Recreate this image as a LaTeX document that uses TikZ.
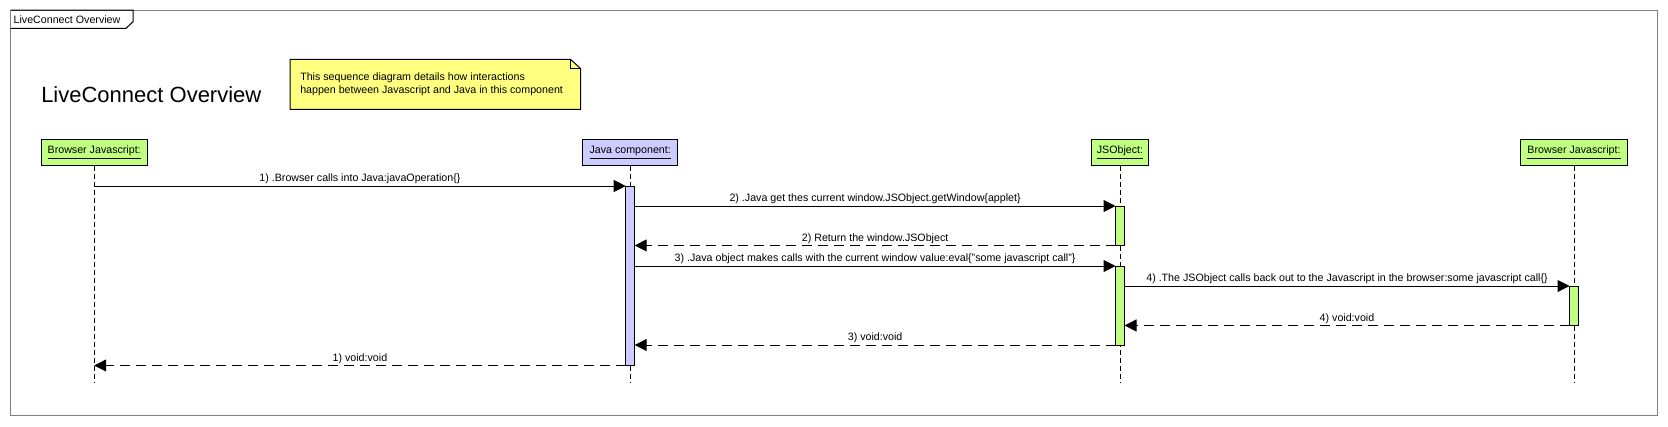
\documentclass[tikz,border=0pt]{standalone}
\usepackage{fontspec}
\setmainfont{Liberation Sans}
\usetikzlibrary{arrows.meta}
\definecolor{lifegreen}{HTML}{C0FF80}
\definecolor{lifeblue}{HTML}{CCCCFF}
\definecolor{noteyellow}{HTML}{FFFF80}
\definecolor{framegray}{HTML}{808080}

\begin{document}
\begin{tikzpicture}[
    x=0.75pt, y=-0.75pt,
    font=\fontsize{8}{10}\selectfont,
    actor/.style={draw, line width=0.75pt, minimum height=19.8pt, inner sep=0pt, outer sep=0pt},
    activation/.style={draw, line width=0.75pt, minimum width=6.75pt, inner sep=0pt, outer sep=0pt, anchor=north},
    lifeline/.style={line width=0.75pt, dash pattern=on 3.75pt off 2.25pt},
    call/.style={line width=0.75pt, -{Triangle[length=9pt, width=9pt]}},
    reply/.style={call, dash pattern=on 7pt off 5pt},
    msg/.style={midway, above, inner sep=1pt},
  ]
    \useasboundingbox (0,0) rectangle (1668,426);

    % frame and its tab
    \draw[framegray, line width=0.75pt] (10.5,10) rectangle (1657,415);
    \draw[line width=0.75pt] (10.5,10) -- (133,10) -- (133,21.7) -- (126,28.3) -- (10.5,28.3);
    \node[anchor=west, inner sep=0pt] (tab) at (13.4,19.2) {LiveConnect Overview};

    \node[anchor=base west, inner sep=0pt, font=\fontsize{16.5}{19}\selectfont] (title) at (41,102) {LiveConnect Overview};

    % note
    \draw[fill=noteyellow, line width=0.75pt] (290,59.3) -- (570.5,59.3) -- (580.5,68.5)
      -- (580.5,109.3) -- (290,109.3) -- cycle;
    \draw[line width=0.75pt] (570.5,59.3) -- (570.5,68.5) -- (580.5,68.5);
    \node[anchor=west, align=left, inner sep=0pt] (note) at (300,84.5)
      {This sequence diagram details how interactions\\happen between Javascript and Java in this component};

    % participants
    \node[actor, fill=lifegreen, minimum width=79.7pt] (bjs1) at (94.2,152.5) {\underline{Browser Javascript:}};
    \node[actor, fill=lifeblue, minimum width=71.2pt] (jcomp) at (630.2,152.5) {\underline{Java component:}};
    \node[actor, fill=lifegreen, minimum width=43.2pt] (jsobj) at (1120,152.5) {\underline{JSObject:}};
    \node[actor, fill=lifegreen, minimum width=80.5pt] (bjs2) at (1574,152.5) {\underline{Browser Javascript:}};

    \coordinate (lifeEnd) at (0,383);
    \foreach \p in {bjs1, jcomp, jsobj, bjs2}
      \draw[lifeline] (\p.south) -- (\p.south |- lifeEnd);

    % activations
    \node[activation, fill=lifeblue, minimum height=134.6pt] (jact) at (630.2,186) {};
    \node[activation, fill=lifegreen, minimum height=29.6pt] (oact1) at (1120,206) {};
    \node[activation, fill=lifegreen, minimum height=59.25pt] (oact2) at (1120,266) {};
    \node[activation, fill=lifegreen, minimum height=29.6pt] (bact) at (1574,286) {};

    % messages
    \draw[call] (bjs1.south |- jact.north) -- (jact.north west)
      node[msg] {1) .Browser calls into Java:javaOperation\{\}};
    \draw[call] (jact.east |- oact1.north) -- (oact1.north west)
      node[msg] {2) .Java get thes current window.JSObject.getWindow\{applet\}};
    \draw[reply] (oact1.south west) -- (jact.east |- oact1.south)
      node[msg] {2) Return the window.JSObject};
    \draw[call] (jact.east |- oact2.north) -- (oact2.north west)
      node[msg] {3) .Java object makes calls with the current window value:eval\{"some javascript call"\}};
    \draw[call] (oact2.east |- bact.north) -- (bact.north west)
      node[msg] {4) .The JSObject calls back out to the Javascript in the browser:some javascript call\{\}};
    \draw[reply] (bact.south west) -- (oact2.east |- bact.south)
      node[msg] {4) void:void};
    \draw[reply] (oact2.south west) -- (jact.east |- oact2.south)
      node[msg] {3) void:void};
    \draw[reply] (jact.south west) -- (bjs1.south |- jact.south)
      node[msg] {1) void:void};
  \end{tikzpicture}
\end{document}
